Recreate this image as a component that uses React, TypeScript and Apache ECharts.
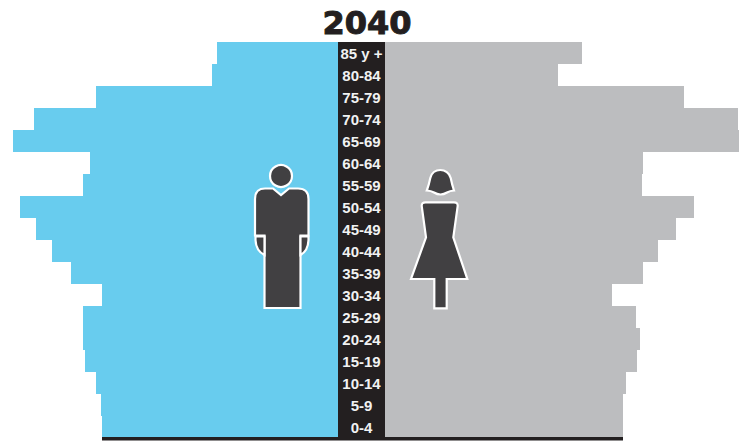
import React, { useEffect, useRef } from "react";
import * as echarts from "echarts";

const ageGroups = ["85 y +","80-84","75-79","70-74","65-69","60-64","55-59","50-54","45-49","40-44","35-39","30-34","25-29","20-24","15-19","10-14","5-9","0-4"];
const maleValues = [121,126,242,304,325,248,255,318,302,286,267,236,255,255,253,242,237,236];
const femaleValues = [197,173,299,353,354,258,257,309,291,273,258,227,251,255,252,241,238,238];
const bandValues = ageGroups.map(() => 1);
const titleText = "2040";

const BLUE = "#68CCEE";
const GRAY = "#BCBDBF";
const DARK = "#231F20";
const FIG = "#414042";

const manBody = "M264.5 308L300.5 308L300.5 235.5L308.5 235.5L308.5 199Q308.5 188.5 298 188.5L289 188.5L281 195L273 188.5L265 188.5Q255 188.5 255 199L255 235.5L264.5 235.5Z";
const manHandL = "M255.5 236.5L264.5 236.5L264.5 255Q256 251 255.5 240Z";
const manHandR = "M300.5 236.5L308.5 236.5L308.5 240Q308 251 300.5 255Z";
const womanHead = "M426.8 190.5C428.5 186 429.5 182 430.3 178C431.5 173 435.5 170 440.3 170C445 170 449.5 173 450.7 178C451.5 182 452.5 186 454 190.5Q450 190.8 447 192.5Q440.5 196.5 434 192.5Q431 190.8 426.8 190.5Z";
const womanBody = "M425.5 202.3L454 202.3Q457.9 202.3 457.7 206L453.3 237.3L467.3 279L446.7 279L446.7 308.3L434.3 308.3L434.3 279L411 279L426 237.3L421.7 206Q421.5 202.3 425.5 202.3Z";

const shapes: Record<string, string> = { manBody, manHandL, manHandR, womanHead, womanBody };
Object.entries(shapes).forEach(([k, d]) => {
  echarts.graphic.registerShape(k, (echarts.graphic as any).extendPath(d, {}));
});

const figStyle = { fill: FIG, stroke: "#FFFFFF", lineWidth: 2.2 };

export default function App() {
  const ref = useRef<HTMLDivElement>(null);
  useEffect(() => {
    document.body.style.margin = "0";
    const chart = echarts.init(ref.current!, undefined, { renderer: "svg" });
    const top = 42, h = 396;
    const yAxisBase = { type: "category", data: ageGroups, inverse: true, axisLine: { show: false }, axisTick: { show: false }, axisLabel: { show: false } };
    chart.setOption({
      animation: false,
      backgroundColor: "#FFFFFF",
      title: {
        text: titleText, left: 362, top: 2, textAlign: "center",
        textStyle: { fontFamily: "DejaVu Sans", fontWeight: "bold", fontSize: 32, color: DARK, textBorderColor: DARK, textBorderWidth: 1 },
      },
      grid: [
        { left: 0, width: 338, top, height: h },
        { left: 338, width: 47, top, height: h },
        { left: 385, width: 368, top, height: h },
      ],
      xAxis: [
        { gridIndex: 0, type: "value", min: 0, max: 338, inverse: true, show: false },
        { gridIndex: 1, type: "value", min: 0, max: 1, show: false },
        { gridIndex: 2, type: "value", min: 0, max: 368, show: false },
      ],
      yAxis: [0, 1, 2].map((i) => ({ ...yAxisBase, gridIndex: i })),
      series: [
        { type: "bar", name: "Male", xAxisIndex: 0, yAxisIndex: 0, data: maleValues, barWidth: "100%", itemStyle: { color: BLUE }, silent: true },
        {
          type: "bar", name: "Age", xAxisIndex: 1, yAxisIndex: 1, data: bandValues, barWidth: "100%", itemStyle: { color: DARK }, silent: true,
          label: { show: true, position: "inside", formatter: "{b}", color: "#F1F2F2", fontFamily: "Liberation Sans", fontWeight: "bold", fontSize: 15 },
        },
        { type: "bar", name: "Female", xAxisIndex: 2, yAxisIndex: 2, data: femaleValues, barWidth: "100%", itemStyle: { color: GRAY }, silent: true },
      ],
      graphic: [
        { type: "rect", shape: { x: 102, y: 437, width: 521, height: 3.5 }, style: { fill: DARK }, z: 5 },
        { type: "circle", shape: { cx: 281, cy: 176, r: 11 }, style: figStyle, z: 6 },
        { type: "manBody", style: figStyle, z: 6 },
        { type: "manHandL", style: figStyle, z: 6 },
        { type: "manHandR", style: figStyle, z: 6 },
        { type: "womanHead", style: figStyle, z: 6 },
        { type: "womanBody", style: figStyle, z: 6 },
      ],
    });
    return () => chart.dispose();
  }, []);
  return <div ref={ref} style={{ width: 753, height: 443 }} />;
}
